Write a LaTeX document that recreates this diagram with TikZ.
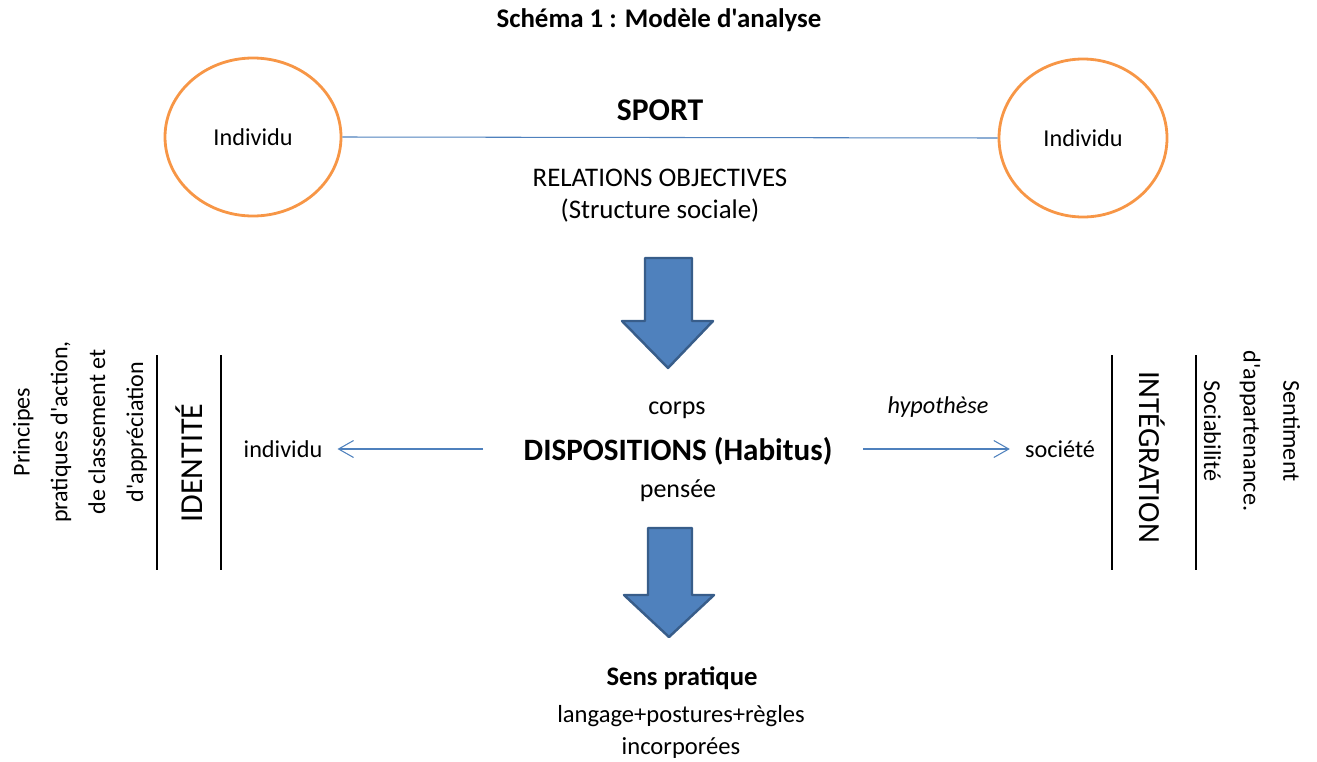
\documentclass[tikz,border=0pt]{standalone}
\usepackage{fontspec}
\setmainfont{Carlito}[Ligatures=TeXOff]
\usepackage{tikz}
\usepackage{xcolor}
\usetikzlibrary{shapes.geometric, arrows, arrows.meta, positioning, calc}

\definecolor{orangeC}{HTML}{F79646}
\definecolor{blueC}{HTML}{4F81BD}
\definecolor{darkblueC}{HTML}{385D8A}

\begin{document}
\begin{tikzpicture}[x=0.02cm, y=-0.02cm, font=\fontsize{13.8}{16}\selectfont,
    circ/.style={draw=orangeC, line width=1.6pt, ellipse, minimum width=176*0.02cm, minimum height=158*0.02cm},
    link/.style={draw=blueC, line width=0.6pt},
    tip/.style={-{Straight Barb[length=3mm, width=3.4mm, line width=0.6pt]}, shorten >=0.18cm},
    bigarrow/.style={fill=blueC, draw=darkblueC, line width=1.4pt, line join=round},
    bar/.style={line width=1.1pt}]
    \useasboundingbox (0,0) rectangle (1317,761);

    % Title
    \node[font=\bfseries\fontsize{15.3}{18}\selectfont] (title) at (659,20) {Schéma 1 : Modèle d'analyse};

    % Individuals
    \node[circ] (indA) at (253,137) {Individu};
    \node[circ, minimum width=168*0.02cm] (indB) at (1083,138) {Individu};
    \draw[link] (indA.east) -- (indB.west);

    \node[font=\bfseries\fontsize{18}{20}\selectfont] (sport) at (660,110) {SPORT};
    \node[align=center, font=\fontsize{15.3}{18.1}\selectfont] (relations) at (660,196) {RELATIONS OBJECTIVES\\(Structure sociale)};

    % Block arrows
    \draw[bigarrow] (645,258) -- (692,258) -- (692,321) -- (713,321) -- (668,368) -- (622,321) -- (645,321) -- cycle;
    \draw[bigarrow] (648,528) -- (692,528) -- (692,595) -- (714,595) -- (669,637) -- (624,595) -- (648,595) -- cycle;

    % Dispositions
    \node[font=\fontsize{14.8}{17}\selectfont] (corps) at (677,410) {corps};
    \node[font=\bfseries\fontsize{17.7}{20}\selectfont] (dispo) at (678,451) {DISPOSITIONS (Habitus)};
    \node[font=\fontsize{14.8}{17}\selectfont] (pensee) at (678,491) {pensée};

    \node (indiv) at (283,449) {individu};
    \node (societe) at (1060,449) {société};
    \node[font=\itshape\fontsize{13.8}{16}\selectfont] (hypo) at (938,407) {hypothèse};
    \coordinate (lstart) at (483,449);
    \coordinate (rstart) at (863,449);
    \draw[link, tip] (lstart) -- (indiv.east);
    \draw[link, tip] (rstart) -- (societe.west);

    % Sens pratique
    \node[font=\bfseries\fontsize{15.2}{18}\selectfont] (sens) at (682,678) {Sens pratique};
    \node[align=center, font=\fontsize{14}{18.1}\selectfont] (langage) at (681,732) {langage+postures+règles\\incorporées};

    % Identite side
    \draw[bar] (157,355) -- (157,570);
    \draw[bar] (221,355) -- (221,570);
    \node[rotate=90, font=\fontsize{18.2}{20}\selectfont] (identite) at (189,463) {IDENTITÉ};
    \node[rotate=90, align=center, font=\fontsize{13.7}{21.5}\selectfont] (principes) at (80,432)
        {Principes\\pratiques d'action,\\de classement et\\d'appréciation};

    % Integration side
    \draw[bar] (1112,355) -- (1112,570);
    \draw[bar] (1196,355) -- (1196,570);
    \node[rotate=-90, font=\fontsize{17.5}{20}\selectfont] (integration) at (1152,457) {INTÉGRATION};
    \node[rotate=-90, align=center, font=\fontsize{13.8}{22.5}\selectfont] (sentiment) at (1252,431)
        {Sentiment\\d'appartenance.\\Sociabilité};
\end{tikzpicture}
\end{document}
